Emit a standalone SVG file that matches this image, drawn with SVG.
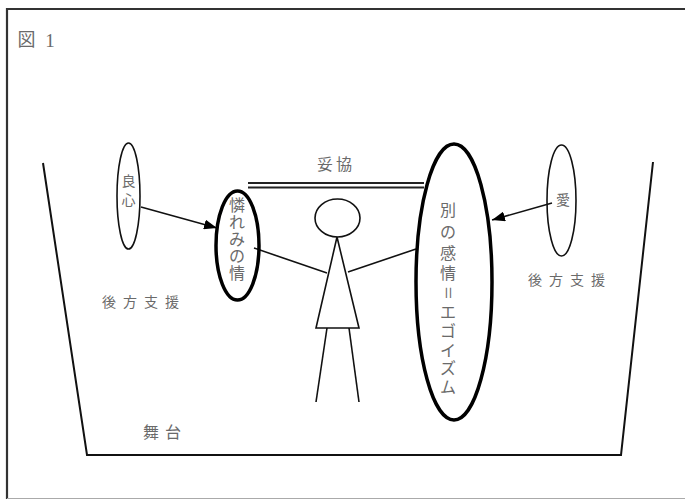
<svg xmlns="http://www.w3.org/2000/svg" width="685" height="500" viewBox="0 0 685 500">
  <defs>
    <marker id="arrow" viewBox="0 0 13 10" refX="13" refY="5" markerWidth="13" markerHeight="10" markerUnits="userSpaceOnUse" orient="auto">
      <path d="M0,0 L13,5 L0,10 z" fill="#000"/>
    </marker>
    <style>
      .ln { fill: none; stroke: #111; stroke-width: 2; }
      .thin { fill: none; stroke: #111; stroke-width: 1.6; }
      .bold { fill: none; stroke: #000; stroke-width: 3.5; }
      .lbl { font-family: "Liberation Serif", "Noto Sans CJK JP", serif; fill: #6a6a6a; text-anchor: middle; dominant-baseline: central; }
      .sm { font-size: 14px; }
      .md { font-size: 16px; }
    </style>
  </defs>

  <rect width="685" height="500" fill="#fff"/>

  <!-- page frame -->
  <g id="frame">
    <line x1="6" y1="9" x2="685" y2="9" stroke="#333" stroke-width="2.2"/>
    <line x1="7" y1="8" x2="7" y2="499" stroke="#333" stroke-width="2.2"/>
    <line x1="7" y1="498.5" x2="685" y2="498.5" stroke="#aaa" stroke-width="1"/>
  </g>

  <g id="title">
    <text x="26.5" y="40" class="lbl" font-size="18" fill="#555">図</text>
    <text x="50" y="40" class="lbl" font-size="19" fill="#555">1</text>
  </g>

  <!-- stage -->
  <g id="stage">
    <polyline class="ln" points="43,163 87,455 621,455 653,162"/>
    <text class="lbl md" x="165" y="432" letter-spacing="6">舞台</text>
  </g>

  <!-- connectors -->
  <g id="connectors">
    <line class="thin" x1="141" y1="207" x2="217" y2="228" marker-end="url(#arrow)"/>
    <line class="thin" x1="552" y1="203" x2="492" y2="220" marker-end="url(#arrow)"/>
    <line class="thin" x1="254" y1="248" x2="327" y2="273"/>
    <line class="thin" x1="348" y1="272" x2="416" y2="249"/>
    <line x1="248" y1="183" x2="424" y2="183" stroke="#222" stroke-width="1.8"/>
    <line x1="248" y1="187.5" x2="424" y2="187.5" stroke="#222" stroke-width="1.8"/>
    <text class="lbl md" x="336" y="164" letter-spacing="3">妥協</text>
  </g>

  <!-- person -->
  <g id="person">
    <ellipse class="thin" cx="337.5" cy="218" rx="22.5" ry="19"/>
    <polygon class="thin" points="337,237 316,328 359,328"/>
    <line class="thin" x1="327" y1="328" x2="316" y2="402"/>
    <line class="thin" x1="349" y1="328" x2="359" y2="402"/>
  </g>

  <g id="conscience">
    <ellipse class="thin" cx="128.5" cy="196" rx="11.5" ry="53"/>
    <text class="lbl sm" x="128.5" y="181">良</text>
    <text class="lbl sm" x="128.5" y="200">心</text>
  </g>

  <g id="pity">
    <ellipse class="bold" cx="237.5" cy="245.5" rx="21.5" ry="54.5"/>
    <text class="lbl md" x="237" y="205">憐</text>
    <text class="lbl md" x="237" y="222">れ</text>
    <text class="lbl md" x="237" y="239">み</text>
    <text class="lbl md" x="237" y="256">の</text>
    <text class="lbl md" x="237" y="273">情</text>
  </g>

  <g id="egoism">
    <ellipse class="bold" cx="454" cy="282" rx="38" ry="138"/>
    <text class="lbl md" x="448" y="210">別</text>
    <text class="lbl md" x="448" y="232">の</text>
    <text class="lbl md" x="448" y="253">感</text>
    <text class="lbl md" x="448" y="273">情</text>
    <text class="lbl" font-size="22" x="448" y="293" transform="rotate(90 448 293)">=</text>
    <text class="lbl md" x="448" y="312">エ</text>
    <text class="lbl md" x="448" y="331">ゴ</text>
    <text class="lbl md" x="448" y="350">イ</text>
    <text class="lbl md" x="448" y="368">ズ</text>
    <text class="lbl md" x="448" y="387">ム</text>
  </g>

  <g id="love">
    <ellipse class="thin" cx="561.5" cy="200.5" rx="14.5" ry="55.5"/>
    <text class="lbl sm" x="563" y="200">愛</text>
  </g>

  <g id="support-left">
    <text class="lbl sm" x="144" y="302" letter-spacing="7">後方支援</text>
  </g>
  <g id="support-right">
    <text class="lbl sm" x="570" y="280" letter-spacing="7">後方支援</text>
  </g>
</svg>
